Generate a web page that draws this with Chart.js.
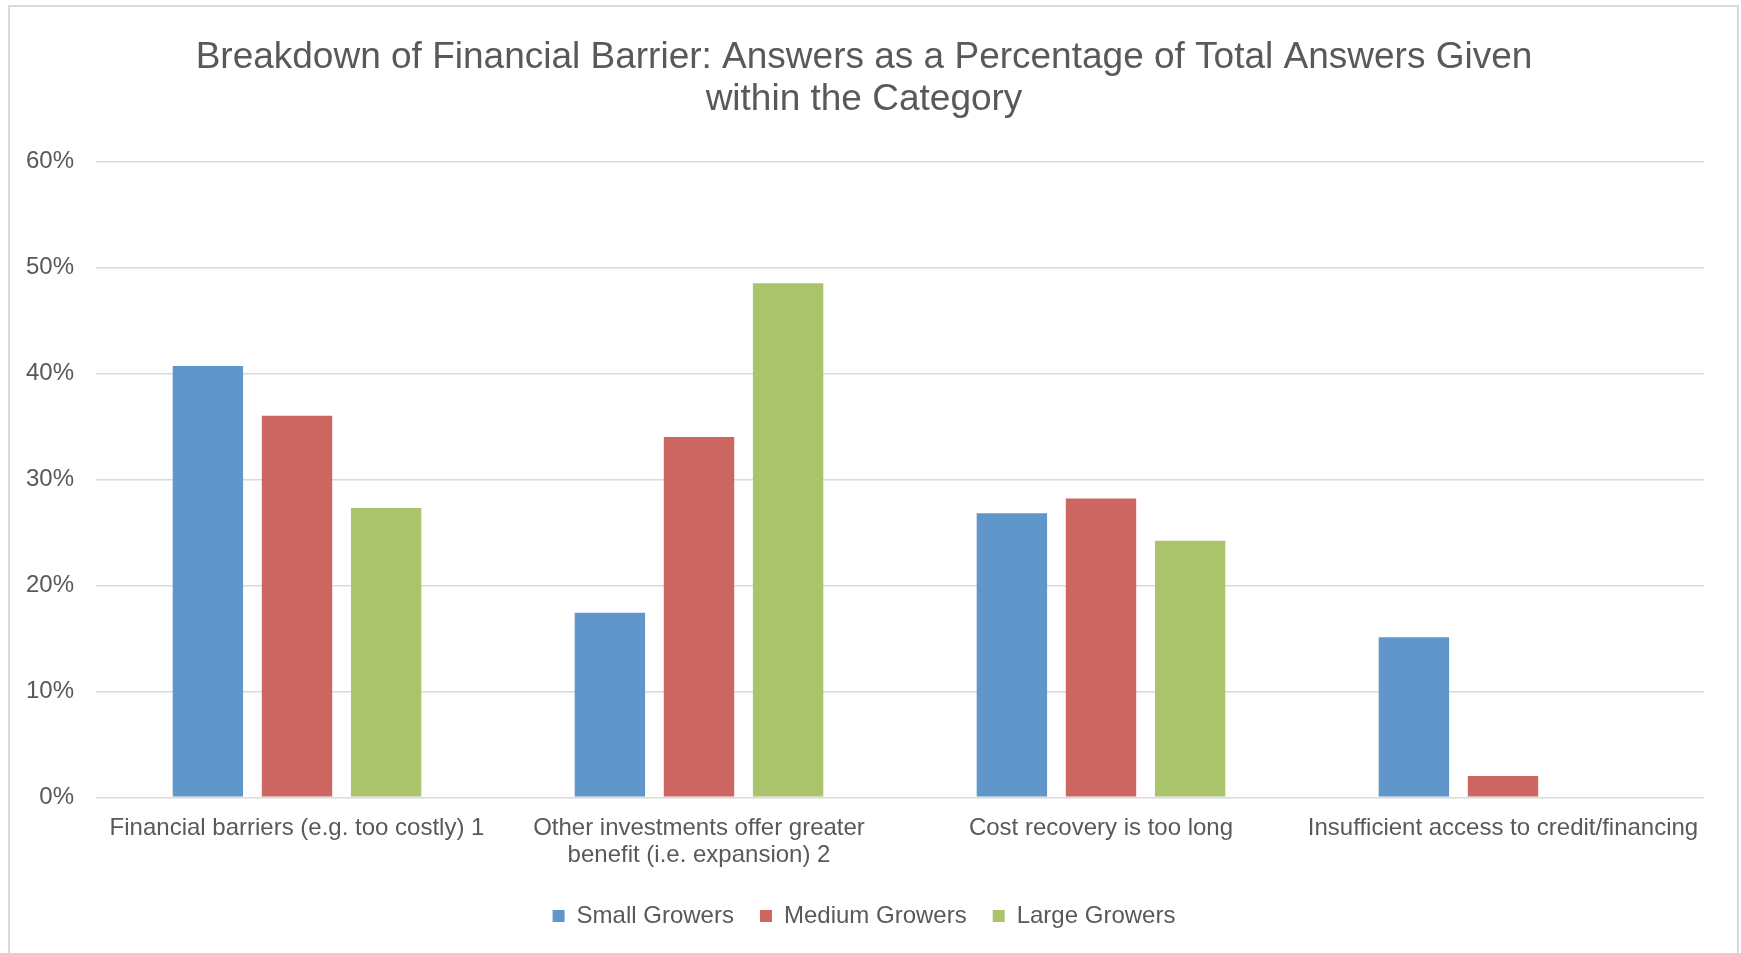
<!DOCTYPE html>
<html lang="en">
<head>
<meta charset="UTF-8">
<title>Financial Barrier Breakdown</title>
<script src="https://cdn.jsdelivr.net/npm/chart.js"></script>
<style>
body {
    margin: 0;
    background: #fff;
    font-family: "Liberation Sans", Arial, sans-serif;
}
.frame {
    position: absolute;
    left: 8px;
    top: 5px;
    width: 1727px;
    height: 1000px;
    border: 2px solid #d9d9d9;
}
#chart {
    position: absolute;
    left: 0;
    top: 0;
}
</style>
</head>
<body>
<div class="frame"></div>
<canvas id="chart" width="1741" height="953"></canvas>

<script>
// categories and answer shares (percent of answers in each grower group)
const categories = [
    "Financial barriers (e.g. too costly) 1",
    ["Other investments offer greater", "benefit (i.e. expansion) 2"],
    "Cost recovery is too long",
    "Insufficient access to credit/financing"
];
const smallGrowers  = [40.7, 17.4, 26.8, 15.1];
const mediumGrowers = [36.0, 34.0, 28.2, 2.0];
const largeGrowers  = [27.3, 48.5, 24.2, 0];
const seriesNames = ["Small Growers", "Medium Growers", "Large Growers"];
const yMax = 60, yStep = 10;

const colors = ["#6096c9", "#cd6660", "#aac46b"];
const textColor = "#595959";
const fontFamily = "'Liberation Sans', Arial, sans-serif";

const datasets = [smallGrowers, mediumGrowers, largeGrowers].map((data, i) => ({
    label: seriesNames[i],
    data: data,
    backgroundColor: colors[i],
    borderWidth: 0,
    barPercentage: 0.79,
    categoryPercentage: 0.665
}));

new Chart(document.getElementById("chart").getContext("2d"), {
    type: "bar",
    data: {labels: categories, datasets},
    options: {
        responsive: false,
        animation: false,
        layout: {padding: {top: 37, left: 24, right: 37, bottom: 15}},
        plugins: {
            title: {
                display: true,
                text: ["Breakdown of Financial Barrier: Answers as a Percentage of Total Answers Given",
                       "within the Category"],
                color: textColor,
                font: {family: fontFamily, size: 37, weight: "normal", lineHeight: 1.14},
                padding: {top: 0, bottom: 40}
            },
            legend: {
                position: "bottom",
                labels: {
                    color: textColor,
                    font: {family: fontFamily, size: 24},
                    boxWidth: 12,
                    boxHeight: 12,
                    padding: 26
                }
            },
            tooltip: {enabled: false}
        },
        scales: {
            x: {
                grid: {display: false},
                border: {display: false},
                ticks: {
                    color: textColor,
                    font: {family: fontFamily, size: 24, lineHeight: 1.14},
                    maxRotation: 0,
                    autoSkip: false,
                    padding: 9
                }
            },
            y: {
                min: 0,
                max: yMax,
                border: {display: false},
                grid: {color: "#d9d9d9", lineWidth: 1.5, drawTicks: false},
                ticks: {
                    stepSize: yStep,
                    color: textColor,
                    font: {family: fontFamily, size: 24},
                    padding: 22,
                    callback: v => v + "%"
                },
                // fixed axis width: widest label plus its padding
                afterFit: scale => { scale.width = 72; }
            }
        }
    }
});
</script>
</body>
</html>
